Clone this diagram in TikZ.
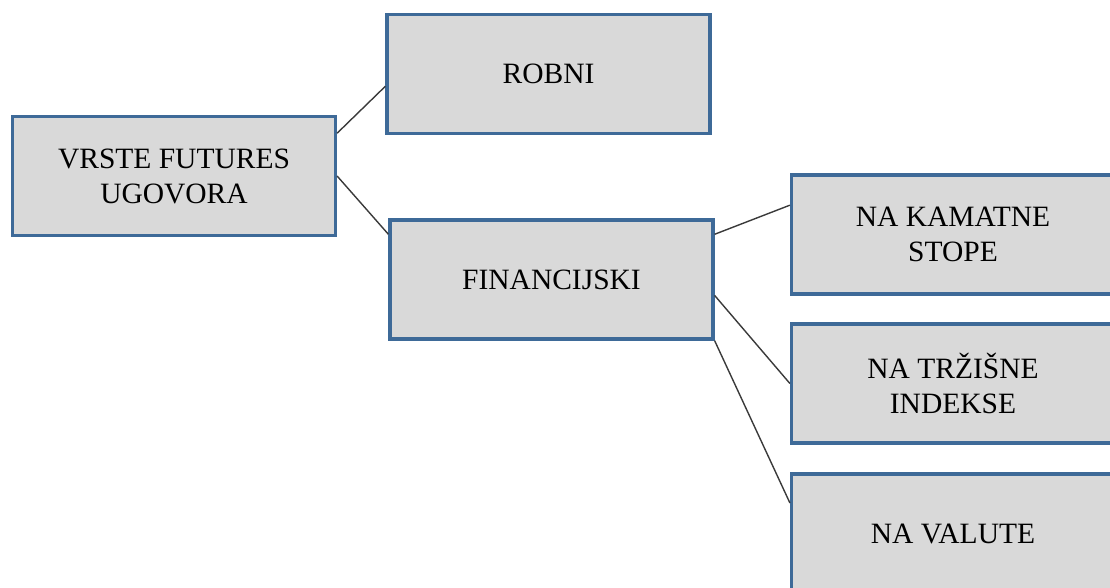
\documentclass[tikz,border=0pt]{standalone}
\usepackage{fontspec}
\setmainfont{Liberation Serif}
\usetikzlibrary{calc}
\definecolor{boxfill}{HTML}{D9D9D9}
\definecolor{boxline}{HTML}{3E6A98}
\definecolor{conn}{HTML}{3A3A3A}
\begin{document}
\begin{tikzpicture}[x=1pt,y=-1pt,
  box/.style={draw=boxline,fill=boxfill,line width=3.2pt,minimum width=323pt,minimum height=119pt,
    inner sep=0pt,align=center,font=\fontsize{29.5}{35}\selectfont},
  link/.style={draw=conn,line width=1.4pt}]
\useasboundingbox (0,0) rectangle (1110,587);
\node[box] (root) at (174,176) {VRSTE FUTURES\\UGOVORA};
\node[box] (rob) at (548.5,74) {\raisebox{-3pt}{ROBNI}};
\node[box] (fin) at (551.5,279.5) {FINANCIJSKI};
\node[box] (kam) at (953,234.5) {NA KAMATNE\\STOPE};
\node[box] (trz) at (953,383.5) {NA TRŽIŠNE\\INDEKSE};
\node[box] (val) at (953,533.5) {NA VALUTE};
\draw[link] ($(root.north east)!0.15!(root.south east)$) -- ($(rob.north west)!0.6!(rob.south west)$);
\draw[link] (root.east) -- ($(fin.north west)!0.13!(fin.south west)$);
\draw[link] ($(fin.north east)!0.13!(fin.south east)$) -- ($(kam.north west)!0.26!(kam.south west)$);
\draw[link] ($(fin.north east)!0.63!(fin.south east)$) -- (trz.west);
\draw[link] (fin.south east) -- ($(val.north west)!0.25!(val.south west)$);
\end{tikzpicture}
\end{document}
